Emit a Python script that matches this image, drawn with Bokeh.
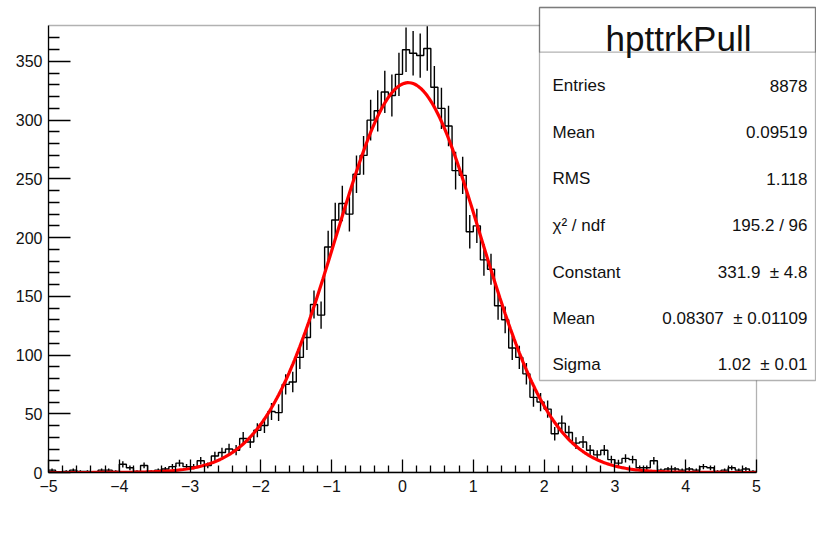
import numpy as np
from bokeh.plotting import figure
from bokeh.models import ColumnDataSource, FixedTicker, Range1d, Label, BoxAnnotation, Title
from bokeh.embed import file_html
from bokeh.resources import INLINE

# ---------------- data ----------------
bin_low = -5.0
bin_high = 5.0
counts = [2, 0, 1, 2, 1, 1, 0, 2, 2, 1,
          7, 4, 1, 6, 1, 2, 3, 5, 8, 5,
          5, 10, 6, 14, 17, 20, 19, 29, 26, 36,
          40, 52, 51, 75, 77, 98, 115, 143, 134, 192,
          215, 229, 220, 254, 270, 300, 308, 324, 321, 339,
          360, 357, 355, 361, 328, 310, 295, 257, 253, 205,
          210, 181, 173, 142, 130, 106, 98, 84, 64, 60,
          54, 33, 42, 34, 25, 26, 19, 15, 19, 11,
          8, 12, 11, 4, 4, 10, 2, 3, 3, 2,
          3, 2, 5, 4, 1, 2, 4, 2, 3, 1]
fit_constant = 331.9
fit_mean = 0.08307
fit_sigma = 1.02
y_max = 380.6
hist_name = "hpttrkPull"
x_title = "P\u209c pull"
stats_labels = ["Entries", "Mean", "RMS", "\u03c7\u00b2 / ndf", "Constant", "Mean", "Sigma"]
stats_values = ["8878", "0.09519", "1.118", "195.2 / 96", "331.9\u00a0 \u00b1 4.8",
                "0.08307\u00a0 \u00b1 0.01109", "1.02\u00a0 \u00b1 0.01"]
x_ticks = [-5, -4, -3, -2, -1, 0, 1, 2, 3, 4, 5]
y_ticks = [0, 50, 100, 150, 200, 250, 300, 350]
y_minor = [v for v in range(10, 380, 10) if v % 50 != 0]
x_minor = [round(-5 + 0.2 * i, 1) for i in range(51) if i % 5 != 0]

# ---------------- geometry ----------------
# pixel frame of the histogram (ROOT frame): x 48..756, y 25..472
W, H = 816, 552
FL, FR, FT, FB = 48, 756, 25, 472
PX_PER_X = (FR - FL) / (bin_high - bin_low)
PX_PER_Y = (FB - FT) / y_max


def dx(px):
    return bin_low + (px - FL) / PX_PER_X


def dy(py):
    return (FB - py) / PX_PER_Y


FONT = "Liberation Sans"

# The Bokeh frame spans right/top to the canvas edge so the stats box is not clipped;
# the axes are bounded to the histogram's own range.
p = figure(width=W, height=H,
           x_range=Range1d(bin_low, dx(W)), y_range=Range1d(0, dy(0)),
           output_backend="svg", toolbar_location=None,
           min_border_left=FL, min_border_right=0,
           min_border_top=0, min_border_bottom=H - FB)
p.grid.visible = False
p.outline_line_color = None
p.background_fill_color = "white"
p.border_fill_color = "white"

# axes
p.xaxis.ticker = FixedTicker(ticks=x_ticks, minor_ticks=x_minor)
p.yaxis.ticker = FixedTicker(ticks=y_ticks, minor_ticks=y_minor)
p.xaxis.bounds = (bin_low, bin_high)
p.yaxis.bounds = (0, y_max)
for ax in (p.xaxis, p.yaxis):
    ax.major_tick_out = 0
    ax.minor_tick_out = 0
    ax.axis_line_color = "black"
    ax.axis_line_width = 1.3
    ax.major_tick_line_color = "black"
    ax.minor_tick_line_color = "black"
    ax.major_tick_line_width = 1.3
    ax.minor_tick_line_width = 1.3
    ax.major_label_text_font = FONT
    ax.major_label_text_font_size = "16px"
    ax.major_label_text_color = "#111111"
p.xaxis.major_tick_in = 13
p.xaxis.minor_tick_in = 7
p.xaxis.major_label_standoff = 7
p.yaxis.major_tick_in = 22
p.yaxis.minor_tick_in = 11
p.yaxis.major_label_standoff = 6

# x-axis title, placed under the right end of the histogram
p.add_layout(Title(text=x_title, align="right", offset=-180, standoff=-5,
                   text_font=FONT, text_font_size="44px", text_font_style="normal",
                   text_color="black"), "below")

# ROOT frame (top and right edges)
p.add_layout(BoxAnnotation(left=bin_low, right=bin_high, bottom=0, top=y_max,
                           fill_alpha=0.0, line_color="black", line_width=1.3))

# histogram
nb = len(counts)
edges = np.linspace(bin_low, bin_high, nb + 1)
centers = 0.5 * (edges[:-1] + edges[1:])
cnt = np.array(counts, dtype=float)
step_x = np.repeat(edges, 2)[1:-1]
step_y = np.repeat(cnt, 2)
p.line(step_x, step_y, line_color="black", line_width=1.4)

mask = cnt > 0
err = np.sqrt(cnt)
err_src = ColumnDataSource(dict(x=centers[mask], lo=(cnt - err)[mask], hi=(cnt + err)[mask]))
p.segment(x0="x", y0="lo", x1="x", y1="hi", source=err_src, line_color="black", line_width=1.4)

# gaussian fit
xf = np.linspace(bin_low, bin_high, 401)
yf = fit_constant * np.exp(-0.5 * ((xf - fit_mean) / fit_sigma) ** 2)
p.line(xf, yf, line_color="#ff0000", line_width=3.2)

# stats box
p.add_layout(BoxAnnotation(left=dx(539), right=dx(815), top=dy(7), bottom=dy(380),
                           fill_color="white", fill_alpha=1.0,
                           line_color="black", line_width=1.3))
p.add_layout(BoxAnnotation(left=dx(539), right=dx(815), top=dy(7), bottom=dy(51.7),
                           fill_alpha=0.0, line_color="black", line_width=1.3))
p.add_layout(Label(x=dx(678), y=dy(38), text=hist_name, text_align="center",
                   text_baseline="alphabetic", text_font=FONT, text_font_size="35px",
                   text_color="#111111"))
row_base = [85, 131.5, 178, 224.5, 271.5, 317.5, 364]
for lab, val, yb in zip(stats_labels, stats_values, row_base):
    p.add_layout(Label(x=dx(552), y=dy(yb), text=lab, text_align="left",
                       text_baseline="alphabetic", text_font=FONT, text_font_size="17px",
                       text_color="#111111"))
    p.add_layout(Label(x=dx(807), y=dy(yb), text=val, text_align="right",
                       text_baseline="alphabetic", text_font=FONT, text_font_size="17px",
                       text_color="#111111"))

open("out.html", "w").write(file_html(p, INLINE))
